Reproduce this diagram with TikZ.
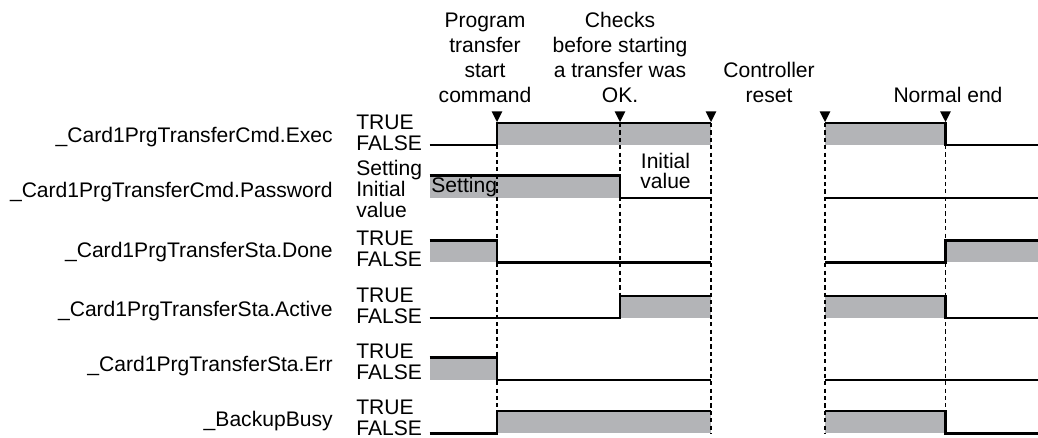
\documentclass[tikz,border=0pt]{standalone}
\usepackage{fontspec}
\setmainfont{Liberation Sans}
\usepackage{tikz}
\usepackage{xcolor}
\definecolor{hibar}{HTML}{B3B4B7}

\begin{document}
\begin{tikzpicture}[x=0.02cm,y=-0.02cm,
  wave/.style={line width=1.3pt,line join=miter},
  guide/.style={line width=0.7pt,dash pattern=on 2.4pt off 1.8pt},
  sig/.style={anchor=base east,inner sep=0pt},
  lvl/.style={align=left,anchor=south west,inner sep=0pt,font=\fontsize{12}{11.9}\selectfont},
  evt/.style={align=center,anchor=south,inner sep=0pt}]
  \fontsize{12}{14.2}\selectfont
  \useasboundingbox (0,0) rectangle (1038,438);
  % events above the chart
  \node[evt] (evCmd) at (485,103.3) {Program\\transfer\\start\\command};
  \node[evt] (evCheck) at (620,103.3) {Checks\\before starting\\a transfer was\\OK.};
  \node[evt] (evReset) at (769,103.3) {Controller\\reset};
  \node[evt] (evEnd) at (948,103.3) {Normal end};
  % signal names and levels
  \node[sig] (sExec) at (333,143) {\_Card1PrgTransferCmd.Exec};
  \node[sig] (sPassword) at (333,197.3) {\_Card1PrgTransferCmd.Password};
  \node[sig] (sDone) at (333,257.3) {\_Card1PrgTransferSta.Done};
  \node[sig] (sActive) at (333,316.3) {\_Card1PrgTransferSta.Active};
  \node[sig] (sErr) at (333,372) {\_Card1PrgTransferSta.Err};
  \node[sig] (sBusy) at (333,426.3) {\_BackupBusy};
  \node[lvl] (lExec) at (356,151) {TRUE\\FALSE};
  \node[lvl] (lPassword) at (356,218.3) {Setting\\Initial\\value};
  \node[lvl] (lDone) at (356,266.7) {TRUE\\FALSE};
  \node[lvl] (lActive) at (356,324) {TRUE\\FALSE};
  \node[lvl] (lErr) at (356,379.7) {TRUE\\FALSE};
  \node[lvl] (lBusy) at (356,435.7) {TRUE\\FALSE};
  % grey high phases
  \fill[hibar] (497,123) rectangle (711,145);
  \fill[hibar] (825,123) rectangle (945.5,145);
  \fill[hibar] (429.5,175.5) rectangle (620,198);
  \fill[hibar] (429.5,240.5) rectangle (497,262.5);
  \fill[hibar] (945.5,240.5) rectangle (1038,262.5);
  \fill[hibar] (620,296) rectangle (711,318);
  \fill[hibar] (825,296) rectangle (945.5,318);
  \fill[hibar] (429.5,357.5) rectangle (497,379.7);
  \fill[hibar] (497,411) rectangle (711,433.5);
  \fill[hibar] (825,411) rectangle (945.5,433.5);
  \node[anchor=base west,inner sep=0pt] (tSetting) at (431,192.7) {Setting};
  \node[align=center,anchor=south,inner sep=0pt,font=\fontsize{12}{11.4}\selectfont] (tInitial) at (665.5,189.3) {Initial\\value};
  % guide lines
  \draw[guide] (497,145) -- (497,433.5);
  \draw[guide] (620,123) -- (620,296);
  \draw[guide] (711,123) -- (711,433.5);
  \draw[guide] (825,123) -- (825,433.5);
  \draw[guide] (945.5,145) -- (945.5,433.5);
  % waveforms
  \draw[wave] (429.5,145) -- (497,145) -- (497,123) -- (711,123);
  \draw[wave] (825,123) -- (945.5,123) -- (945.5,145) -- (1038,145);
  \draw[wave] (429.5,175.5) -- (620,175.5) -- (620,198) -- (711,198);
  \draw[wave] (825,198) -- (1038,198);
  \draw[wave] (429.5,240.5) -- (497,240.5) -- (497,262.5) -- (711,262.5);
  \draw[wave] (825,262.5) -- (945.5,262.5) -- (945.5,240.5) -- (1038,240.5);
  \draw[wave] (429.5,318) -- (620,318) -- (620,296) -- (711,296);
  \draw[wave] (825,296) -- (945.5,296) -- (945.5,318) -- (1038,318);
  \draw[wave] (429.5,357.5) -- (497,357.5) -- (497,379.7) -- (711,379.7);
  \draw[wave] (825,379.7) -- (1038,379.7);
  \draw[wave] (429.5,433.5) -- (497,433.5) -- (497,411) -- (711,411);
  \draw[wave] (825,411) -- (945.5,411) -- (945.5,433.5) -- (1038,433.5);
  % event markers
  \fill (491.7,111.5) -- (502.3,111.5) -- (497,122) -- cycle;
  \fill (614.7,111.5) -- (625.3,111.5) -- (620,122) -- cycle;
  \fill (705.7,111.5) -- (716.3,111.5) -- (711,122) -- cycle;
  \fill (819.7,111.5) -- (830.3,111.5) -- (825,122) -- cycle;
  \fill (940.2,111.5) -- (950.8,111.5) -- (945.5,122) -- cycle;
\end{tikzpicture}
\end{document}
